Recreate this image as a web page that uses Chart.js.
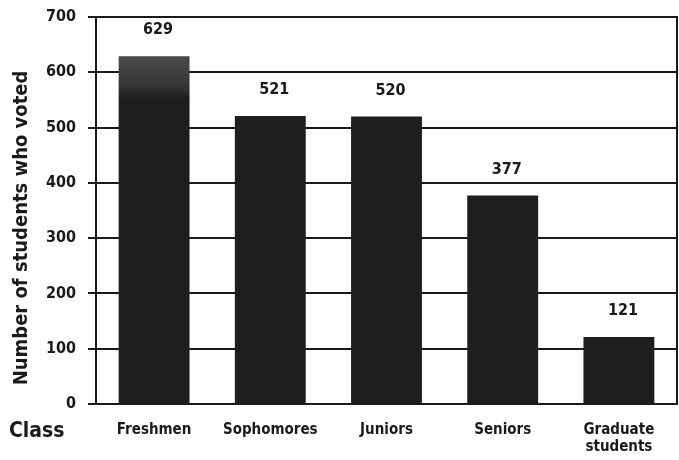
<!DOCTYPE html>
<html>
<head>
<meta charset="utf-8">
<script src="https://cdn.jsdelivr.net/npm/chart.js@4/dist/chart.umd.min.js"></script>
<style>
  html, body { margin: 0; padding: 0; background: #fff; }
  #wrap { width: 679px; height: 460px; position: relative; }
</style>
</head>
<body>
<div id="wrap"><canvas id="c" width="679" height="460"></canvas></div>
<script>
const classes = ['Freshmen', 'Sophomores', 'Juniors', 'Seniors', ['Graduate', 'students']];
const voted = [629, 521, 520, 377, 121];
const yTicks = [0, 100, 200, 300, 400, 500, 600, 700];
const yTitle = 'Number of students who voted';
const xTitle = 'Class';

const FONT = "'Liberation Sans Narrow', 'DejaVu Sans Condensed', 'Liberation Sans', Arial, sans-serif";
const INK = '#1a1a1a';

// the first bar is printed with a lighter halftone at its top
function barFill(c) {
  if (c.dataIndex !== 0) return '#1e1e1e';
  const y = c.chart.scales.y;
  const top = y.getPixelForValue(voted[0]);
  if (!isFinite(top)) return '#2a2a2a';
  const g = c.chart.ctx.createLinearGradient(0, top, 0, top + 42);
  g.addColorStop(0, '#4a4a4a');
  g.addColorStop(0.7, '#363636');
  g.addColorStop(1, '#1e1e1e');
  return g;
}

// value labels above bars, axis captions and the right frame line
const extras = {
  id: 'extras',
  afterDatasetsDraw(chart) {
    const { ctx, chartArea: a } = chart;
    const meta = chart.getDatasetMeta(0);
    ctx.save();
    ctx.fillStyle = INK;
    ctx.font = 'bold 16px ' + FONT;
    ctx.textAlign = 'center';
    ctx.textBaseline = 'middle';
    meta.data.forEach((bar, i) => {
      ctx.fillText(String(voted[i]), bar.x + 4, bar.y - 26);
    });
    ctx.font = 'bold 21px ' + FONT;
    ctx.textAlign = 'left';
    ctx.fillText(xTitle, 9, 432);

    ctx.save();
    ctx.translate(22, 228);
    ctx.rotate(-Math.PI / 2);
    ctx.textAlign = 'center';
    ctx.font = 'bold 20px ' + FONT;
    ctx.fillText(yTitle, 0, 0);
    ctx.restore();

    ctx.strokeStyle = INK;
    ctx.lineWidth = 2;
    ctx.beginPath();
    ctx.moveTo(a.right, a.top - 1);
    ctx.lineTo(a.right, a.bottom);
    ctx.stroke();
    ctx.restore();
  }
};

new Chart(document.getElementById('c'), {
  type: 'bar',
  data: {
    labels: classes,
    datasets: [{
      data: voted,
      backgroundColor: barFill,
      borderWidth: 0,
      barPercentage: 0.61,
      categoryPercentage: 1.0
    }]
  },
  options: {
    responsive: false,
    animation: false,
    layout: { padding: { top: 17, right: 2, left: 0, bottom: 0 } },
    plugins: { legend: { display: false }, tooltip: { enabled: false } },
    scales: {
      x: {
        grid: { display: false, drawTicks: false },
        border: { color: INK, width: 2 },
        ticks: { color: INK, font: { family: FONT, size: 15, weight: 'bold', lineHeight: 1.1 }, padding: 18, maxRotation: 0 },
        afterFit: s => { s.height = 56; }
      },
      y: {
        min: 0, max: 700,
        afterBuildTicks: s => { s.ticks = yTicks.map(v => ({ value: v })); },
        grid: { color: INK, lineWidth: 2, tickLength: 8 },
        border: { color: INK, width: 2 },
        ticks: { color: INK, font: { family: FONT, size: 16, weight: 'bold' }, padding: 12 },
        afterFit: s => { s.width = 96; s.paddingTop = 0; s.paddingBottom = 0; }
      }
    }
  },
  plugins: [extras]
});
</script>
</body>
</html>
